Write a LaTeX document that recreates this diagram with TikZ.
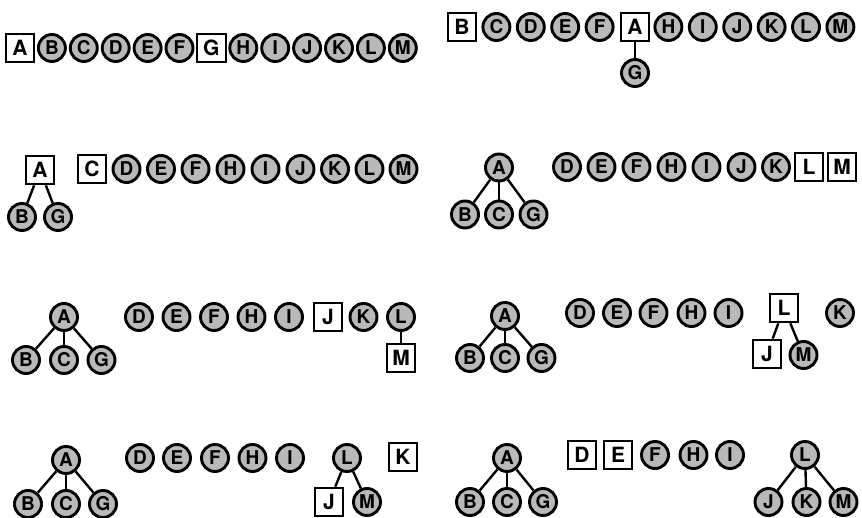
\documentclass[tikz,border=0pt]{standalone}
\usepackage{fontspec}
\setmainfont{TeX Gyre Heros}
\begin{document}
\begin{tikzpicture}[x=1pt,y=-1pt,
  cnode/.style={circle,draw=black,line width=2.9pt,fill=gray!55,minimum size=27pt,inner sep=0pt,
    font=\fontsize{19}{19}\selectfont\bfseries},
  bnode/.style={rectangle,draw=black,line width=2.1pt,fill=white,minimum size=28.5pt,inner sep=0pt,
    font=\fontsize{21}{21}\selectfont\bfseries},
  edge/.style={draw=black,line width=2.4pt}]
\useasboundingbox (0,0) rectangle (862,518);
% ---------- panel 1 ----------
\node[bnode] (p1A) at (20,48) {A};
\foreach \l/\x in {B/51.9,C/83.8,D/115.7,E/147.6,F/179.5,H/243.3,I/275.2,J/307.1,K/339,L/370.9,M/402.8}
  \node[cnode] (p1\l) at (\x,48) {\l};
\node[bnode] (p1G) at (211.4,48) {G};
% ---------- panel 2 ----------
\node[bnode] (p2B) at (462,27) {B};
\foreach \l/\x in {C/496.4,D/530.8,E/565.2,F/599.6,H/668.4,I/702.8,J/737.2,K/771.6,L/806,M/840.4}
  \node[cnode] (p2\l) at (\x,27) {\l};
\node[bnode] (p2A) at (635,27) {A};
\node[cnode] (p2G) at (635,73) {G};
\draw[edge] (p2A) -- (p2G);
% ---------- panel 3 ----------
\node[bnode] (p3A) at (40,170) {A};
\node[cnode] (p3B) at (22,217) {B};
\node[cnode] (p3G) at (58,217) {G};
\draw[edge] (p3A) -- (p3B);
\draw[edge] (p3A) -- (p3G);
\node[bnode] (p3C) at (92,169) {C};
\foreach \l/\x in {D/126.5,E/161,F/195.5,H/230.5,I/265.5,J/300.5,K/335,L/369.5,M/403.5}
  \node[cnode] (p3\l) at (\x,169) {\l};
% ---------- panel 4 ----------
\node[cnode] (p4A) at (499,167.5) {A};
\node[cnode] (p4B) at (465,214.5) {B};
\node[cnode] (p4C) at (499,214.5) {C};
\node[cnode] (p4G) at (533.5,214.5) {G};
\draw[edge] (p4A) -- (p4B);
\draw[edge] (p4A) -- (p4C);
\draw[edge] (p4A) -- (p4G);
\foreach \l/\x in {D/567,E/601.5,F/636.5,H/671.5,I/706.5,J/741.5,K/776}
  \node[cnode] (p4\l) at (\x,167) {\l};
\node[bnode] (p4L) at (809,167) {L};
\node[bnode] (p4M) at (842,167) {M};
% ---------- panel 5 ----------
\node[cnode] (p5A) at (64,317) {A};
\node[cnode] (p5B) at (26,360) {B};
\node[cnode] (p5C) at (64,360) {C};
\node[cnode] (p5G) at (101.5,360) {G};
\draw[edge] (p5A) -- (p5B);
\draw[edge] (p5A) -- (p5C);
\draw[edge] (p5A) -- (p5G);
\foreach \l/\x in {D/139,E/176.5,F/214,H/251.5,I/289,K/363.5,L/401}
  \node[cnode] (p5\l) at (\x,317) {\l};
\node[bnode] (p5J) at (328,317) {J};
\node[bnode] (p5M) at (401,358) {M};
\draw[edge] (p5L) -- (p5M);
% ---------- panel 6 ----------
\node[cnode] (p6A) at (505,316) {A};
\node[cnode] (p6B) at (470,358) {B};
\node[cnode] (p6C) at (505,358) {C};
\node[cnode] (p6G) at (541.5,358) {G};
\draw[edge] (p6A) -- (p6B);
\draw[edge] (p6A) -- (p6C);
\draw[edge] (p6A) -- (p6G);
\foreach \l/\x in {D/580,E/617,F/653.5,H/691.5,I/728.5}
  \node[cnode] (p6\l) at (\x,313) {\l};
\node[bnode] (p6L) at (784,308) {L};
\node[cnode] (p6K) at (840,313) {K};
\node[bnode] (p6J) at (767,354) {J};
\node[cnode] (p6M) at (803.5,355) {M};
\draw[edge] (p6L) -- (p6J);
\draw[edge] (p6L) -- (p6M);
% ---------- panel 7 ----------
\node[cnode] (p7A) at (66,460) {A};
\node[cnode] (p7B) at (28,504) {B};
\node[cnode] (p7C) at (66,504) {C};
\node[cnode] (p7G) at (103,504) {G};
\draw[edge] (p7A) -- (p7B);
\draw[edge] (p7A) -- (p7C);
\draw[edge] (p7A) -- (p7G);
\foreach \l/\x in {D/140,E/177,F/215,H/252.5,I/290}
  \node[cnode] (p7\l) at (\x,458) {\l};
\node[cnode] (p7L) at (347,458) {L};
\node[bnode] (p7K) at (403,457) {K};
\node[bnode] (p7J) at (329,502) {J};
\node[cnode] (p7M) at (367,502) {M};
\draw[edge] (p7L) -- (p7J);
\draw[edge] (p7L) -- (p7M);
% ---------- panel 8 ----------
\node[cnode] (p8A) at (507,458) {A};
\node[cnode] (p8B) at (470,502) {B};
\node[cnode] (p8C) at (507,502) {C};
\node[cnode] (p8G) at (543,502) {G};
\draw[edge] (p8A) -- (p8B);
\draw[edge] (p8A) -- (p8C);
\draw[edge] (p8A) -- (p8G);
\node[bnode] (p8D) at (582,455) {D};
\node[bnode] (p8E) at (618,455) {E};
\foreach \l/\x in {F/655,H/693.5,I/730}
  \node[cnode] (p8\l) at (\x,455) {\l};
\node[cnode] (p8L) at (805,455) {L};
\node[cnode] (p8J) at (768.5,502) {J};
\node[cnode] (p8K) at (806.5,502) {K};
\node[cnode] (p8M) at (843.5,502) {M};
\draw[edge] (p8L) -- (p8J);
\draw[edge] (p8L) -- (p8K);
\draw[edge] (p8L) -- (p8M);
\end{tikzpicture}
\end{document}
